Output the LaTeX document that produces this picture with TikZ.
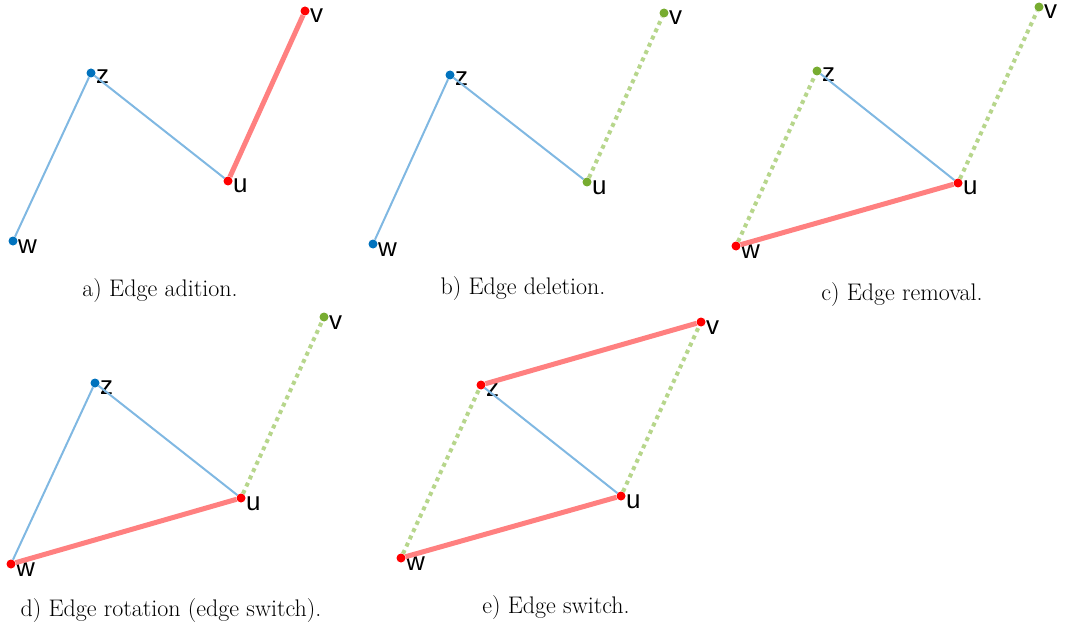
\documentclass[tikz,border=0pt]{standalone}
\usepackage{fontspec}
\usepackage{tikz}
\usetikzlibrary{positioning}
\newfontfamily\lblfont{Liberation Sans}
\definecolor{DotBlue}{HTML}{0072BD}
\definecolor{EdgeBlue}{HTML}{80B8E2}
\definecolor{DotRed}{HTML}{FF0000}
\definecolor{EdgeRed}{HTML}{FF8080}
\definecolor{DotGreen}{HTML}{77AC30}
\definecolor{EdgeGreen}{HTML}{B7D68C}
\tikzset{%
  vert/.style={circle,inner sep=0pt,minimum size=9pt},
  vblue/.style={vert,fill=DotBlue},
  vred/.style={vert,fill=DotRed},
  vgreen/.style={vert,fill=DotGreen},
  vname/.style={anchor=base west,inner sep=0pt,font=\lblfont\fontsize{26}{26}\selectfont},
  caption/.style={anchor=base,inner sep=0pt,font=\fontsize{24}{28}\selectfont},
  kept/.style={EdgeBlue,line width=2pt},
  added/.style={EdgeRed,line width=5pt},
  removed/.style={EdgeGreen,line width=4pt,dash pattern=on 4pt off 4pt}
}
\newcommand{\vnames}[1]{%
  \node[vname] (#1wt) at ([shift={(5,12)}]#1w.center) {w};
  \node[vname] (#1zt) at ([shift={(5,11)}]#1z.center) {z};
  \node[vname] (#1ut) at ([shift={(5,12)}]#1u.center) {u};
  \node[vname] (#1vt) at ([shift={(5,12)}]#1v.center) {v};
}

\begin{document}
\begin{tikzpicture}[x=1pt,y=-1pt]
  \useasboundingbox (0,0) rectangle (1070,631);

  \node[vblue] (aw) at (13,241) {};
  \node[vblue] (az) at (91,73) {};
  \node[vred] (au) at (228,181) {};
  \node[vred] (av) at (305,11) {};
  \vnames{a}
  \draw[kept] (aw) -- (az);
  \draw[kept] (az) -- (au);
  \draw[added] (au) -- (av);
  \node[caption] (acap) at (160,296) {a) Edge adition.};

  \node[vblue] (bw) at (373,244) {};
  \node[vblue] (bz) at (450,75) {};
  \node[vgreen] (bu) at (587,182) {};
  \node[vgreen] (bv) at (664,13) {};
  \vnames{b}
  \draw[kept] (bw) -- (bz);
  \draw[kept] (bz) -- (bu);
  \draw[removed] (bu) -- (bv);
  \node[caption] (bcap) at (523,294) {b) Edge deletion.};

  \node[vred] (cw) at (736,246) {};
  \node[vgreen] (cz) at (817,71) {};
  \node[vred] (cu) at (958,183) {};
  \node[vgreen] (cv) at (1039,7) {};
  \vnames{c}
  \draw[removed] (cw) -- (cz);
  \draw[kept] (cz) -- (cu);
  \draw[removed] (cu) -- (cv);
  \draw[added] (cw) -- (cu);
  \node[caption] (ccap) at (902,300) {c) Edge removal.};

  \node[vred] (dw) at (11,564) {};
  \node[vblue] (dz) at (95,383) {};
  \node[vred] (du) at (241,498) {};
  \node[vgreen] (dv) at (324,317) {};
  \vnames{d}
  \draw[kept] (dw) -- (dz);
  \draw[kept] (dz) -- (du);
  \draw[removed] (du) -- (dv);
  \draw[added] (dw) -- (du);
  \node[caption] (dcap) at (171,616) {d) Edge rotation (edge switch).};

  \node[vred] (ew) at (401,558) {};
  \node[vred] (ez) at (481,385) {};
  \node[vred] (eu) at (621,496) {};
  \node[vred] (ev) at (701,322) {};
  \vnames{e}
  \draw[removed] (ew) -- (ez);
  \draw[kept] (ez) -- (eu);
  \draw[removed] (eu) -- (ev);
  \draw[added] (ew) -- (eu);
  \draw[added] (ez) -- (ev);
  \node[caption] (ecap) at (556,613) {e) Edge switch.};
\end{tikzpicture}
\end{document}
